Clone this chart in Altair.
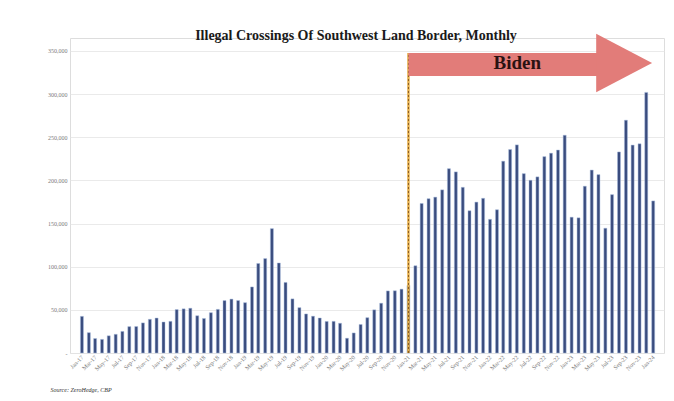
import altair as alt
import pandas as pd

TITLE = "Illegal Crossings Of Southwest Land Border, Monthly"
SOURCE = "Source: ZeroHedge, CBP"

# monthly encounters, Jan-17 .. Jan-24
START_MONTH = "2017-01-01"
crossings = [
    42463, 23555, 16787, 15766, 19940, 21659, 25011, 30567, 30673, 34871, 39051, 40519,
    35905, 36695, 50347, 51168, 51862, 43180, 40024, 46719, 50568, 60745, 62456, 60782,
    58317, 76545, 103731, 109415, 144116, 104311, 81777, 62707, 52546, 45250, 42643, 40565,
    36585, 36687, 34460, 17106, 23237, 33049, 40929, 50014, 57674, 71929, 72113, 73994,
    78414, 101099, 173277, 178795, 180597, 189034, 213593, 209840, 192001, 164837, 174845, 179253,
    154874, 166010, 222239, 235785, 241136, 207834, 200162, 204087, 227547, 231529, 235173, 252315,
    157358, 156630, 193249, 211992, 206690, 144556, 183503, 232972, 269735, 240932, 242418, 301983,
    176205,
]
y_ticks = [0, 50000, 100000, 150000, 200000, 250000, 300000, 350000]

# "Biden" arrow annotation, in data units
INAUGURATION = "2021-01-01"
ARROW_LABEL = "Biden"
body_dates = ["2021-01-01", "2023-04-25"]
body_values = [321000, 347500]
head_dates = ["2023-04-21", "2023-12-27"]
head_low = [302000, 336000]
head_high = [370000, 336000]
label_date = "2022-05-03"
label_value = 336000

NAVY = "#3A4C7E"
SALMON = "#E27C79"
GOLD = "#E6B04C"
AXIS_GREY = "#7A7A7A"
SERIF = "Liberation Serif"

X_SCALE = alt.Scale(domain=[alt.DateTime(year=2016, month=12, date=1),
                            alt.DateTime(year=2024, month=1, date=27)])
Y_SCALE = alt.Scale(domain=[0, 365000], nice=False)

X_AXIS = alt.Axis(
    format="%b-%y", tickCount={"interval": "month", "step": 2},
    labelAngle=-45, labelAlign="right", labelBaseline="middle",
    labelFont=SERIF, labelFontSize=6, labelColor=AXIS_GREY, labelOverlap=False,
    labelPadding=3, ticks=False, domain=False, grid=False,
    title=SOURCE, titleFont=SERIF, titleFontSize=6, titleFontStyle="italic",
    titleFontWeight="normal", titleColor="#333333", titleAnchor="start",
    titleAlign="left", titleBaseline="middle", titleX=-20, titleY=36,
)
Y_AXIS = alt.Axis(
    values=y_ticks, labelExpr="datum.value == 0 ? '-' : format(datum.value, ',')",
    labelFont=SERIF, labelFontSize=6, labelColor=AXIS_GREY, labelPadding=3,
    ticks=False, domain=False, gridColor="#E4E4E4", gridWidth=0.8, title=None,
)


def _x(field):
    return alt.X(f"{field}:T", scale=X_SCALE, axis=X_AXIS)


def _y(field):
    return alt.Y(f"{field}:Q", scale=Y_SCALE, axis=Y_AXIS)


df = pd.DataFrame({
    "month": pd.date_range(START_MONTH, periods=len(crossings), freq="MS"),
    "crossings": crossings,
})

bars = alt.Chart(df).mark_bar(
    size=3, color=NAVY, stroke="#A9BEE0", strokeWidth=0.8, strokeOpacity=0.6
).encode(x=_x("month"), y=_y("crossings"))

inaug = pd.DataFrame({"d": pd.to_datetime([INAUGURATION]), "lo": [0], "hi": [body_values[1]]})
rule = alt.Chart(inaug).mark_rule(color=GOLD, strokeWidth=2.5).encode(
    x=_x("d"), y=_y("lo"), y2="hi:Q")
rule_dash = alt.Chart(inaug).mark_rule(color="#8A5A20", strokeWidth=1, strokeDash=[2, 2]).encode(
    x=_x("d"), y=_y("lo"), y2="hi:Q")

body = pd.DataFrame({"d1": pd.to_datetime([body_dates[0]]), "d2": pd.to_datetime([body_dates[1]]),
                     "lo": [body_values[0]], "hi": [body_values[1]]})
arrow_body = alt.Chart(body).mark_rect(color=SALMON).encode(
    x=_x("d1"), x2="d2:T", y=_y("lo"), y2="hi:Q")

head = pd.DataFrame({"d": pd.to_datetime(head_dates), "lo": head_low, "hi": head_high})
arrow_head = alt.Chart(head).mark_area(color=SALMON).encode(
    x=_x("d"), y=_y("lo"), y2="hi:Q")

lab = pd.DataFrame({"d": pd.to_datetime([label_date]), "v": [label_value], "t": [ARROW_LABEL]})
arrow_text = alt.Chart(lab).mark_text(
    font=SERIF, fontSize=19, fontWeight="bold", color="#2A1212", baseline="middle"
).encode(x=_x("d"), y=_y("v"), text="t:N")

chart = (bars + rule + rule_dash + arrow_body + arrow_head + arrow_text).properties(
    width=594, height=315,
    title=alt.TitleParams(TITLE, font=SERIF, fontSize=14, fontWeight="bold",
                          color="#1A1A1A", anchor="middle", dx=-11, dy=13),
    autosize=alt.AutoSizeParams(type="none"),
    padding={"left": 62, "top": 30, "right": 2, "bottom": 40},
).configure_view(stroke=None).configure(background="white")

chart.save("out.html", embed_options={"renderer": "svg", "actions": False})
